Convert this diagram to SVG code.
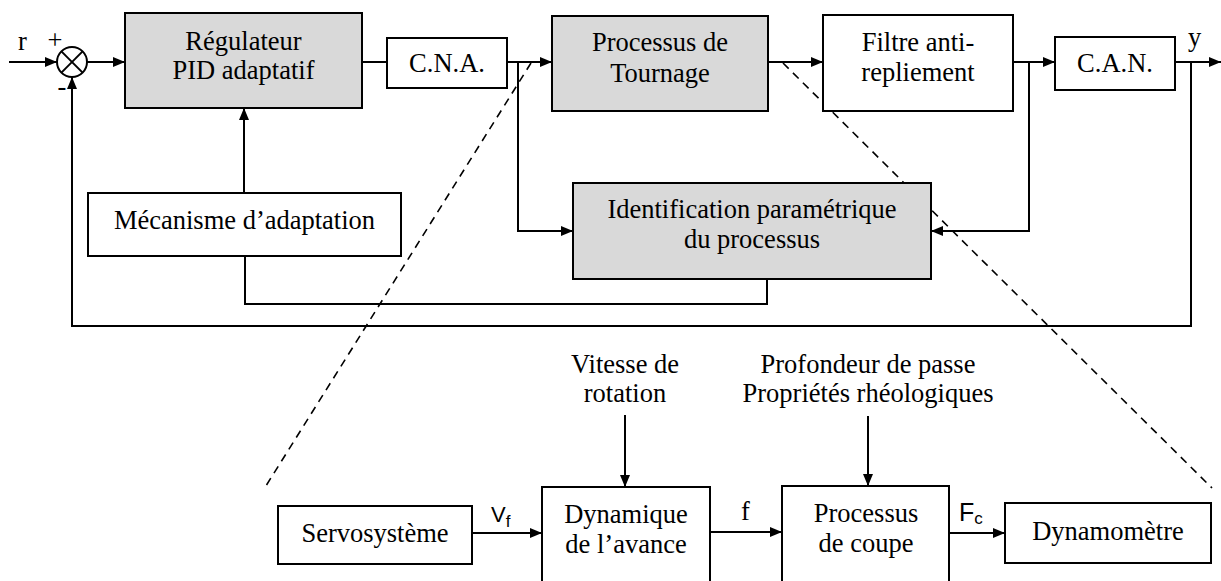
<svg xmlns="http://www.w3.org/2000/svg" width="1221" height="581" viewBox="0 0 1221 581">
<defs>
<marker id="ah" viewBox="0 0 12 10" refX="12" refY="5" markerWidth="12" markerHeight="10" markerUnits="userSpaceOnUse" orient="auto">
<path d="M0,0 L12,5 L0,10 Z" fill="#000"/>
</marker>
</defs>
<style>
.box{stroke:#000;stroke-width:2;fill:#fff}
.gray{fill:#d9d9d9}
.tx{font-family:"Liberation Serif","Times New Roman",serif;font-size:26.5px;fill:#000;text-anchor:middle}
.lx{font-family:"Liberation Serif","Times New Roman",serif;font-size:26.5px;fill:#000}
.sx{font-family:"Liberation Sans",Arial,sans-serif;fill:#000}
.c{stroke:#000;stroke-width:2;fill:none}
.a{marker-end:url(#ah)}
.d{stroke:#000;stroke-width:1.6;fill:none;stroke-dasharray:8 6}
</style>
<rect width="1221" height="581" fill="#fff"/>

<g id="connectors">
<line class="c a" x1="9" y1="62" x2="57" y2="62"/>
<line class="c a" x1="87" y1="62" x2="125" y2="62"/>
<line class="c" x1="362" y1="62" x2="387" y2="62"/>
<line class="c a" x1="507" y1="62" x2="552" y2="62"/>
<line class="c a" x1="768" y1="62" x2="823" y2="62"/>
<line class="c a" x1="1013" y1="62" x2="1055" y2="62"/>
<line class="c a" x1="1175" y1="62" x2="1221" y2="62"/>
<polyline class="c a" points="518,62 518,231 573,231"/>
<polyline class="c a" points="1029,62 1029,231 931,231"/>
<line class="c a" x1="244" y1="193" x2="244" y2="108"/>
<polyline class="c" points="767,279 767,304 245,304 245,256"/>
<polyline class="c a" points="1191,62 1191,326 72,326 72,77"/>
<line class="c a" x1="472" y1="533" x2="542" y2="533"/>
<line class="c a" x1="710" y1="532" x2="782" y2="532"/>
<line class="c a" x1="949" y1="533" x2="1005" y2="533"/>
<line class="c a" x1="625" y1="415" x2="625" y2="487"/>
<line class="c a" x1="868" y1="416" x2="868" y2="486"/>
<line class="d" x1="531" y1="63" x2="264" y2="489"/>
<line class="d" x1="783" y1="63" x2="1212" y2="488"/>
</g>

<g id="sum">
<circle cx="72" cy="62" r="15" class="box"/>
<line class="c" x1="61.4" y1="51.4" x2="82.6" y2="72.6"/>
<line class="c" x1="82.6" y1="51.4" x2="61.4" y2="72.6"/>
<text class="lx" x="18" y="50">r</text>
<text class="tx" x="55" y="49">+</text>
<text class="tx" x="62" y="95">-</text>
</g>

<g id="regulateur">
<rect class="box gray" x="125" y="13" width="237" height="95"/>
<text class="tx" x="243.5" y="50">Régulateur</text>
<text class="tx" x="243.5" y="79">PID adaptatif</text>
</g>

<g id="cna">
<rect class="box" x="387" y="38" width="120" height="50"/>
<text class="tx" x="447" y="72">C.N.A.</text>
</g>

<g id="tournage">
<rect class="box gray" x="552" y="16" width="216" height="95"/>
<text class="tx" x="660" y="51">Processus de</text>
<text class="tx" x="660" y="82">Tournage</text>
</g>

<g id="filtre">
<rect class="box" x="823" y="15" width="190" height="96"/>
<text class="tx" x="918" y="51">Filtre anti-</text>
<text class="tx" x="918" y="81">repliement</text>
</g>

<g id="can">
<rect class="box" x="1055" y="37" width="120" height="53"/>
<text class="tx" x="1115" y="72">C.A.N.</text>
<text class="lx" x="1188" y="46">y</text>
</g>

<g id="mecanisme">
<rect class="box" x="88" y="193" width="313" height="63"/>
<text class="tx" x="244.5" y="229">Mécanisme d’adaptation</text>
</g>

<g id="identification">
<rect class="box gray" x="573" y="183" width="358" height="96"/>
<text class="tx" x="752" y="218">Identification paramétrique</text>
<text class="tx" x="752" y="248">du processus</text>
</g>

<g id="vitesse">
<text class="tx" x="625" y="373">Vitesse de</text>
<text class="tx" x="625" y="402">rotation</text>
</g>

<g id="profondeur">
<text class="tx" x="868" y="373">Profondeur de passe</text>
<text class="tx" x="868" y="402">Propriétés rhéologiques</text>
</g>

<g id="servo">
<rect class="box" x="278" y="506" width="194" height="58"/>
<text class="tx" x="375" y="542">Servosystème</text>
<text class="sx" x="491" y="522" font-size="22">V<tspan font-size="17" dy="5">f</tspan></text>
</g>

<g id="dynamique">
<rect class="box" x="542" y="487" width="168" height="110"/>
<text class="tx" x="626" y="523">Dynamique</text>
<text class="tx" x="626" y="553">de l’avance</text>
<text class="lx" x="741" y="520">f</text>
</g>

<g id="coupe">
<rect class="box" x="782" y="486" width="167" height="110"/>
<text class="tx" x="866" y="522">Processus</text>
<text class="tx" x="866" y="552">de coupe</text>
<text class="sx" x="959" y="521" font-size="25">F<tspan font-size="17" dy="3">c</tspan></text>
</g>

<g id="dynamometre">
<rect class="box" x="1005" y="503" width="206" height="60"/>
<text class="tx" x="1108" y="540">Dynamomètre</text>
</g>
</svg>
